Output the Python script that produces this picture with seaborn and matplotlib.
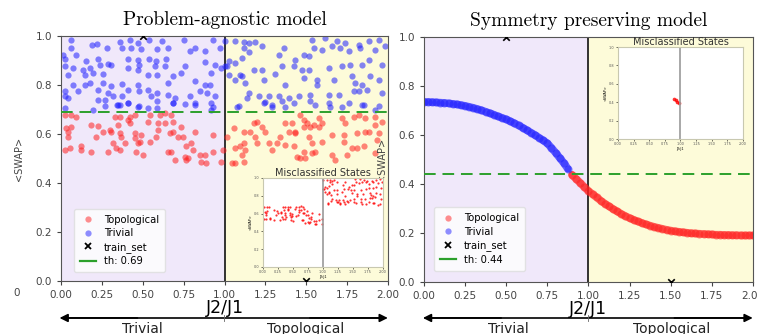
import numpy as np
import matplotlib
matplotlib.use('Agg')
import matplotlib.pyplot as plt
import seaborn as sns
from matplotlib.lines import Line2D

blue_x = [0.064, 0.36, 0.42, 0.47, 0.54, 0.62, 0.75, 0.93, 0.19, 0.22, 0.28, 0.064, 0.37, 0.43, 0.49, 0.59, 0.655, 0.82, 0.79, 0.97,
          0.013, 0.094, 0.41, 0.47, 0.54, 0.58, 0.645, 0.88, 0.88, 0.023, 0.155, 0.227, 0.288, 0.308,
          0.023, 0.074, 0.135, 0.176, 0.237, 0.41, 0.48, 0.573, 0.635, 0.757, 0.94,
          0.043, 0.145, 0.196, 0.257, 0.47, 0.532, 0.59, 0.685, 0.736, 0.92, 0.98,
          0.074, 0.145, 0.176, 0.257, 0.308, 0.37, 0.47, 0.655, 0.82, 0.88, 0.91,
          0.023, 0.104, 0.227, 0.288, 0.41, 0.48, 0.532, 0.59, 0.655, 0.85, 0.89,
          0.023, 0.043, 0.318, 0.37, 0.553, 0.695, 0.787, 0.94,
          0.227, 0.267, 0.349, 0.41, 0.48, 0.59, 0.685, 0.757, 0.82, 0.92,
          0.27, 0.34, 0.41, 0.47, 0.53, 0.59, 0.685, 0.82, 0.93, 0.92, 0.023, 0.196, 0.36,
          1.005, 1.067, 1.118, 1.148, 1.189, 1.118, 1.23, 1.362, 1.535, 1.617, 1.688, 1.739, 1.821, 1.882, 1.943, 1.984,
          1.148, 1.107, 1.332, 1.433, 1.484, 1.515, 1.546, 1.597, 1.658, 1.709, 1.76, 1.831, 1.923,
          1.026, 1.067, 1.016, 1.179, 1.23, 1.352, 1.423, 1.474, 1.515, 1.637, 1.719, 1.77, 1.841, 1.882, 1.964,
          1.026, 1.097, 1.128, 1.067, 1.24, 1.311, 1.372, 1.484, 1.566, 1.566, 1.668, 1.78, 1.8, 1.841, 1.892, 1.943,
          1.148, 1.138, 1.209, 1.27, 1.332, 1.393, 1.454, 1.525, 1.637, 1.699, 1.79, 1.821, 1.872, 1.964,
          1.087, 1.24, 1.291, 1.352, 1.423, 1.525, 1.637, 1.76, 1.841, 1.943, 1.005, 1.107,
          1.077, 1.25, 1.291, 1.372, 1.556, 1.648, 1.719, 1.851, 1.923]
blue_y = [0.985, 0.974, 0.982, 0.971, 0.982, 0.978, 0.982, 0.985, 0.964, 0.968, 0.951, 0.951, 0.951, 0.951, 0.947, 0.947, 0.951, 0.951, 0.937, 0.951,
          0.924, 0.924, 0.906, 0.903, 0.906, 0.896, 0.906, 0.937, 0.892, 0.906, 0.896, 0.906, 0.887, 0.883,
          0.876, 0.869, 0.862, 0.869, 0.883, 0.869, 0.883, 0.876, 0.876, 0.876, 0.883,
          0.842, 0.842, 0.849, 0.846, 0.862, 0.842, 0.842, 0.835, 0.851, 0.849, 0.869,
          0.801, 0.801, 0.808, 0.808, 0.794, 0.805, 0.801, 0.808, 0.815, 0.801, 0.801,
          0.774, 0.774, 0.781, 0.767, 0.781, 0.774, 0.778, 0.767, 0.76, 0.774, 0.767,
          0.754, 0.747, 0.754, 0.754, 0.754, 0.747, 0.754, 0.754,
          0.74, 0.74, 0.72, 0.726, 0.715, 0.733, 0.726, 0.724, 0.72, 0.726,
          0.715, 0.718, 0.728, 0.712, 0.705, 0.705, 0.728, 0.728, 0.712, 0.698, 0.705, 0.698, 0.72,
          0.978, 0.978, 0.974, 0.971, 0.974, 0.951, 0.958, 0.951, 0.985, 0.992, 0.978, 0.971, 0.964, 0.978, 0.985, 0.958,
          0.933, 0.91, 0.924, 0.903, 0.924, 0.917, 0.951, 0.944, 0.958, 0.951, 0.937, 0.951, 0.944,
          0.896, 0.89, 0.876, 0.862, 0.862, 0.876, 0.876, 0.862, 0.862, 0.869, 0.876, 0.883, 0.883, 0.903, 0.883,
          0.842, 0.842, 0.808, 0.822, 0.822, 0.846, 0.801, 0.828, 0.822, 0.801, 0.822, 0.835, 0.808, 0.801, 0.835, 0.822,
          0.767, 0.747, 0.754, 0.754, 0.754, 0.747, 0.754, 0.76, 0.76, 0.76, 0.774, 0.774, 0.781, 0.767,
          0.715, 0.726, 0.72, 0.733, 0.726, 0.733, 0.726, 0.726, 0.72, 0.713, 0.876, 0.835,
          0.712, 0.732, 0.712, 0.712, 0.719, 0.712, 0.712, 0.719, 0.698]

red_x = [0.023, 0.064, 0.094, 0.329, 0.36, 0.42, 0.451, 0.543, 0.604, 0.634, 0.675,
         0.033, 0.064, 0.186, 0.227, 0.349, 0.41, 0.42, 0.532, 0.594, 0.634, 0.685, 0.736,
         0.043, 0.043, 0.257, 0.298, 0.308, 0.36, 0.369, 0.451, 0.594, 0.665, 0.685, 0.716, 0.818, 0.93,
         0.216, 0.492, 0.451, 0.481, 0.543, 0.583, 0.747,
         0.023, 0.054, 0.125, 0.125, 0.186, 0.288, 0.318, 0.339, 0.36, 0.39, 0.471, 0.461, 0.502, 0.655, 0.675, 0.767, 0.797, 0.808, 0.849, 0.879, 0.93,
         0.757, 0.767, 0.777, 0.696, 0.859, 0.889, 0.98, 0.99,
         1.179, 1.199, 1.158, 1.118, 1.056, 1.23, 1.25, 1.372, 1.413, 1.393, 1.433, 1.464, 1.484, 1.505, 1.525, 1.546, 1.576, 1.597, 1.484, 1.576,
         1.719, 1.739, 1.79, 1.821, 1.862, 1.923, 1.923, 1.964,
         1.658, 1.729, 1.811, 1.862, 1.882, 1.943, 1.189, 1.016, 1.342, 1.433, 1.515,
         1.067, 1.097, 1.118, 1.128, 1.107, 1.118, 1.046, 1.067, 1.199, 1.27, 1.291, 1.321, 1.372, 1.423, 1.535, 1.484, 1.444, 1.464, 1.495,
         1.535, 1.556, 1.658, 1.678, 1.75, 1.78, 1.811, 1.851, 1.923, 1.933, 1.597, 1.729]
red_y = [0.678, 0.678, 0.671, 0.671, 0.671, 0.671, 0.678, 0.678, 0.678, 0.685, 0.678,
         0.623, 0.63, 0.637, 0.633, 0.637, 0.657, 0.644, 0.651, 0.644, 0.644, 0.651, 0.63,
         0.61, 0.589, 0.61, 0.617, 0.61, 0.603, 0.589, 0.603, 0.617, 0.603, 0.61, 0.589, 0.61, 0.596,
         0.589, 0.596, 0.583, 0.569, 0.569, 0.589, 0.589,
         0.535, 0.542, 0.549, 0.535, 0.528, 0.528, 0.565, 0.542, 0.535, 0.562, 0.562, 0.528, 0.515, 0.528, 0.528, 0.549, 0.562, 0.535, 0.515, 0.515, 0.528,
         0.508, 0.494, 0.501, 0.494, 0.487, 0.483, 0.487, 0.535,
         0.644, 0.651, 0.61, 0.61, 0.623, 0.63, 0.61, 0.644, 0.644, 0.61, 0.61, 0.678, 0.657, 0.644, 0.63, 0.637, 0.63, 0.644, 0.63, 0.664,
         0.664, 0.644, 0.671, 0.678, 0.664, 0.671, 0.637, 0.651,
         0.596, 0.596, 0.603, 0.61, 0.61, 0.603, 0.589, 0.589, 0.589, 0.603, 0.589,
         0.542, 0.549, 0.562, 0.535, 0.515, 0.487, 0.48, 0.48, 0.562, 0.562, 0.535, 0.562, 0.555, 0.549, 0.562, 0.528, 0.508, 0.501, 0.501,
         0.521, 0.528, 0.515, 0.494, 0.515, 0.542, 0.542, 0.549, 0.521, 0.576, 0.569, 0.569]

# Right panel: <SWAP> curve, sampled every 0.025 in J2/J1
curve_x = np.linspace(0, 2, 81)
curve_y = [0.735, 0.735, 0.734, 0.733, 0.732, 0.731, 0.729, 0.727, 0.725, 0.722,
           0.719, 0.715, 0.711, 0.706, 0.701, 0.695, 0.689, 0.683, 0.676, 0.670,
           0.664, 0.656, 0.648, 0.639, 0.630, 0.620, 0.610, 0.600, 0.589, 0.578,
           0.566, 0.548, 0.528, 0.507, 0.486, 0.462, 0.438, 0.421, 0.405, 0.388,
           0.372, 0.358, 0.345, 0.332, 0.320, 0.309, 0.298, 0.288, 0.278, 0.269,
           0.261, 0.254, 0.247, 0.241, 0.235, 0.230, 0.225, 0.221, 0.217, 0.213,
           0.210, 0.207, 0.205, 0.203, 0.201, 0.199, 0.198, 0.197, 0.196, 0.195,
           0.194, 0.193, 0.193, 0.192, 0.192, 0.191, 0.191, 0.190, 0.190, 0.190, 0.190]

train_x = [0.5, 1.5]
train_y = [1.0, 0.0]
thresholds = [0.69, 0.44]
titles = ['Problem-agnostic model', 'Symmetry preserving model']
xticks = [0.0, 0.25, 0.5, 0.75, 1.0, 1.25, 1.5, 1.75, 2.0]

RED = '#ff2020'
BLUE = '#2020ff'
GREEN = '#2ca02c'

fig = plt.figure(figsize=(7.57, 3.34), dpi=100)
ax_l = fig.add_axes([0.0806, 0.1587, 0.432, 0.7335])
ax_r = fig.add_axes([0.560, 0.1557, 0.4346, 0.7335])
in_l = fig.add_axes([0.3474, 0.2006, 0.1585, 0.2665])
in_r = fig.add_axes([0.8164, 0.5838, 0.165, 0.2754])

bx, by = np.array(blue_x), np.array(blue_y)
rx, ry = np.array(red_x), np.array(red_y)
cx, cy = np.array(curve_x), np.array(curve_y)


def base_axes(ax, th, title):
    ax.axvspan(0, 1, color='#f0e8fa', zorder=0)
    ax.axvspan(1, 2, color='#fdfbd9', zorder=0)
    ax.axvline(1, color='#222222', lw=1.3, zorder=1)
    ax.axhline(th, color=GREEN, lw=1.4, dashes=(6, 3.5), zorder=3)
    ax.scatter(train_x, train_y, marker='x', color='black', s=22, lw=1.2, zorder=4)
    ax.set_xlim(0, 2)
    ax.set_ylim(0, 1)
    ax.set_xticks(xticks)
    ax.set_xticklabels([f'{t:.2f}' for t in xticks])
    ax.set_yticks([0, 0.2, 0.4, 0.6, 0.8, 1.0])
    ax.tick_params(labelsize=7.5, labelcolor='#444444', length=3, color='#444444')
    for s in ax.spines.values():
        s.set_color('#555555')
    ax.set_ylabel('<SWAP>', fontsize=7, color='#444444', labelpad=8)
    ax.set_xlabel('J2/J1', fontsize=12.5, labelpad=-1)
    ax.set_title(title, fontsize=14, family='cmr10', pad=8)
    handles = [
        Line2D([], [], marker='o', ls='', color=RED, alpha=0.5, markersize=4.5, markeredgewidth=0),
        Line2D([], [], marker='o', ls='', color=BLUE, alpha=0.5, markersize=4.5, markeredgewidth=0),
        Line2D([], [], marker='x', ls='', color='black', markersize=5, markeredgewidth=1.3),
        Line2D([], [], color=GREEN, lw=1.6),
    ]
    return handles


def inset(ax, px, py, size):
    ax.set_facecolor('white')
    ax.axvline(1, color='#999999', lw=1.2)
    sns.scatterplot(x=px, y=py, ax=ax, color='red', s=size, linewidth=0, alpha=0.8)
    ax.set_xlim(0, 2)
    ax.set_ylim(0, 1)
    ax.set_xticks(xticks)
    ax.set_xticklabels([f'{t:.2f}' for t in xticks])
    ax.set_yticks([0, 0.2, 0.4, 0.6, 0.8, 1.0])
    ax.tick_params(labelsize=2.5, length=1.5, width=0.4, pad=1, labelcolor='#555555')
    for s in ax.spines.values():
        s.set_color('#c8c8b0')
        s.set_linewidth(0.8)
    ax.set_ylabel('<SWAP>', fontsize=2.5, labelpad=1)
    ax.set_xlabel('J2/J1', fontsize=2.5, labelpad=0.5)
    ax.set_title('Misclassified States', fontsize=7, pad=1.5, color='#333333')


# left panel
h = base_axes(ax_l, thresholds[0], titles[0])
sns.scatterplot(x=rx, y=ry, ax=ax_l, color=RED, s=20, linewidth=0, alpha=0.55, zorder=2)
sns.scatterplot(x=bx, y=by, ax=ax_l, color=BLUE, s=20, linewidth=0, alpha=0.55, zorder=2)
ax_l.legend(h, ['Topological', 'Trivial', 'train_set', 'th: 0.69'], loc='lower left',
            bbox_to_anchor=(0.025, 0.015), fontsize=7.2, framealpha=0.8, edgecolor='#dddddd',
            handlelength=1.6, labelspacing=0.35, borderpad=0.6)
mis_lx = np.concatenate([rx[rx < 1], bx[bx > 1]])
mis_ly = np.concatenate([ry[rx < 1], by[bx > 1]])
inset(in_l, mis_lx, mis_ly, 2.5)

# right panel: dense band of states along the curve
h = base_axes(ax_r, thresholds[1], titles[1])
is_blue = cy >= thresholds[1]
for mask, col in [(~is_blue, RED), (is_blue, BLUE)]:
    sns.lineplot(x=cx[mask], y=cy[mask], ax=ax_r, color=col, lw=5.5, alpha=0.65,
                 solid_capstyle='round', zorder=2)
    sns.scatterplot(x=cx[mask], y=cy[mask], ax=ax_r, color=col, s=34, linewidth=0, alpha=0.5, zorder=2)
ax_r.legend(h, ['Topological', 'Trivial', 'train_set', 'th: 0.44'], loc='lower left',
            bbox_to_anchor=(0.015, 0.025), fontsize=7.2, framealpha=0.8, edgecolor='#dddddd',
            handlelength=1.6, labelspacing=0.35, borderpad=0.6)
mis_r = (~is_blue) & (cx < 1)
inset(in_r, cx[mis_r], cy[mis_r], 7)

# phase arrows under each panel
for x0, x1 in [(0.075, 0.516), (0.555, 0.998)]:
    fig.add_artist(plt.Line2D([x0 + 0.01, x1 - 0.01], [0.048, 0.048], color='black', lw=1.2))
    fig.patches.append(matplotlib.patches.FancyArrowPatch(
        (x0 + 0.25 * (x1 - x0), 0.048), (x0, 0.048), transform=fig.transFigure,
        arrowstyle='-|>', mutation_scale=12, color='black', lw=1.2))
    fig.patches.append(matplotlib.patches.FancyArrowPatch(
        (x1 - 0.25 * (x1 - x0), 0.048), (x1, 0.048), transform=fig.transFigure,
        arrowstyle='-|>', mutation_scale=12, color='black', lw=1.2))
    mid = (x0 + x1) / 2
    fig.add_artist(plt.Line2D([mid, mid], [0.038, 0.058], color='#666666', lw=0.6))

fig.text(142 / 757, 0.037, 'Trivial', ha='center', va='top', fontsize=10, color='#222222')
fig.text(306 / 757, 0.037, 'Topological', ha='center', va='top', fontsize=10, color='#222222')
fig.text(508 / 757, 0.037, 'Trivial', ha='center', va='top', fontsize=10, color='#222222')
fig.text(672 / 757, 0.037, 'Topological', ha='center', va='top', fontsize=10, color='#222222')
fig.text(17 / 757, 1 - 293 / 334, '0', ha='center', va='center', fontsize=7.5, color='#444444')

fig.savefig('out.png', dpi=100)
